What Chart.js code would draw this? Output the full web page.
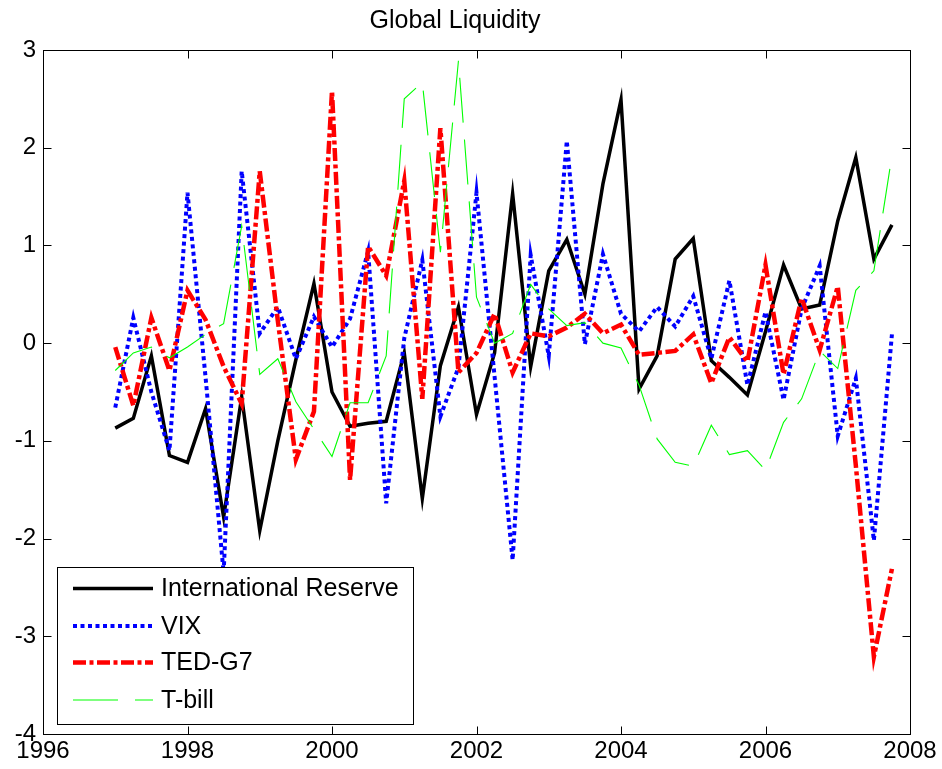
<!DOCTYPE html>
<html>
<head>
<meta charset="utf-8">
<script src="https://cdn.jsdelivr.net/npm/chart.js@4.4.1/dist/chart.umd.min.js"></script>
<style>
  html, body { margin: 0; padding: 0; background: #fff; }
  #wrap { width: 942px; height: 769px; }
</style>
</head>
<body>
<div id="wrap"><canvas id="c" width="942" height="769"></canvas></div>
<script>
// Quarterly observations, 1997Q1 .. 2007Q4 (plotted at fractional years)
const quarters = [
  1997.00, 1997.25, 1997.50, 1997.75, 1998.00, 1998.25, 1998.50, 1998.75,
  1999.00, 1999.25, 1999.50, 1999.75, 2000.00, 2000.25, 2000.50, 2000.75,
  2001.00, 2001.25, 2001.50, 2001.75, 2002.00, 2002.25, 2002.50, 2002.75,
  2003.00, 2003.25, 2003.50, 2003.75, 2004.00, 2004.25, 2004.50, 2004.75,
  2005.00, 2005.25, 2005.50, 2005.75, 2006.00, 2006.25, 2006.50, 2006.75,
  2007.00, 2007.25, 2007.50, 2007.75
];

const internationalReserve = [
  -0.87, -0.77, -0.13, -1.15, -1.22, -0.67, -1.78, -0.55,
  -1.92, -1.00, -0.17,  0.61, -0.50, -0.85, -0.82, -0.80,
  -0.10, -1.59, -0.23,  0.37, -0.73, -0.10,  1.53, -0.24,
   0.74,  1.06,  0.50,  1.63,  2.49, -0.47, -0.13,  0.86,
   1.07, -0.18, -0.35, -0.53,  0.12,  0.80,  0.35,  0.39,
   1.25,  1.90,  0.86,  1.21
];

const vix = [
  -0.66,  0.26, -0.50, -1.10,  1.54, -0.35, -2.35,  1.76,
   0.10,  0.37, -0.16,  0.27, -0.04,  0.25,  0.94, -1.64,
   0.05,  0.85, -0.75, -0.25,  1.54, -0.34, -2.22,  0.90,
  -0.13,  2.07, -0.01,  0.91,  0.30,  0.12,  0.37,  0.17,
   0.48, -0.16,  0.64, -0.43,  0.32, -0.58,  0.35,  0.79,
  -0.95, -0.36, -2.02,  0.09
];

const tedG7 = [
  -0.04, -0.64,  0.26, -0.28,  0.54,  0.24, -0.24, -0.62,
   1.76,  0.23, -1.19, -0.70,  2.58, -1.40,  0.99,  0.69,
   1.66, -0.57,  2.20, -0.30, -0.10,  0.30, -0.30,  0.10,
   0.07,  0.16,  0.30,  0.10,  0.19, -0.12, -0.10, -0.08,
   0.09, -0.41,  0.06, -0.19,  0.80, -0.32,  0.46, -0.07,
   0.58, -1.25, -3.21, -2.31
];

const tBill = [
  -0.28, -0.10, -0.04, -0.15, -0.04,  0.09,  0.20,  1.20,
  -0.32, -0.16, -0.60, -0.88, -1.16, -0.61, -0.61, -0.13,
   2.50,  2.67,  0.93,  2.89,  0.47,  0.00,  0.10,  0.60,
   0.35,  0.18,  0.21,  0.00, -0.05, -0.43, -0.98, -1.22,
  -1.26, -0.84, -1.14, -1.10, -1.30, -0.81, -0.57, -0.08,
  -0.26,  0.54,  0.74,  1.92
];

const seriesNames = ['International Reserve', 'VIX', 'TED-G7', 'T-bill'];
const xTicks = [1996, 1998, 2000, 2002, 2004, 2006, 2008];
const yTicks = [-4, -3, -2, -1, 0, 1, 2, 3];

const FONT = 'Liberation Sans, Arial, Helvetica, sans-serif';

const toPoints = vals => quarters.map((q, i) => ({ x: q, y: vals[i] }));

const styles = [
  { color: '#000000', width: 3.5, dash: [] },
  { color: '#0000ff', width: 4,   dash: [4, 3.5] },
  { color: '#ff0000', width: 4.5, dash: [13, 3.5, 4, 3.5] },
  { color: '#00ff00', width: 1.1, dash: [45, 17] }
];
const seriesValues = [internationalReserve, vix, tedG7, tBill];

const datasets = seriesValues.map((vals, i) => ({
  label: seriesNames[i],
  data: toPoints(vals),
  borderColor: styles[i].color,
  backgroundColor: styles[i].color,
  borderWidth: styles[i].width,
  borderDash: styles[i].dash,
  borderCapStyle: 'butt',
  borderJoinStyle: 'miter',
  pointRadius: 0,
  tension: 0,
  fill: false,
  order: 4 - i   // later series are painted over earlier ones
}));

// Axes box with inward tick marks on all four sides
const framePlugin = {
  id: 'frame',
  afterDatasetsDraw(chart) {
    const { ctx, chartArea: a, scales } = chart;
    ctx.save();
    ctx.strokeStyle = '#000';
    ctx.lineWidth = 1;
    ctx.setLineDash([]);
    const L = Math.round(a.left) + 0.5, R = Math.round(a.right) + 0.5;
    const T = Math.round(a.top) + 0.5, B = Math.round(a.bottom) + 0.5;
    ctx.strokeRect(L, T, R - L, B - T);
    const len = 8;
    ctx.beginPath();
    xTicks.forEach(v => {
      const px = Math.round(scales.x.getPixelForValue(v)) + 0.5;
      ctx.moveTo(px, B); ctx.lineTo(px, B - len);
      ctx.moveTo(px, T); ctx.lineTo(px, T + len);
    });
    yTicks.forEach(v => {
      const py = Math.round(scales.y.getPixelForValue(v)) + 0.5;
      ctx.moveTo(L, py); ctx.lineTo(L + len, py);
      ctx.moveTo(R, py); ctx.lineTo(R - len, py);
    });
    ctx.stroke();
    ctx.restore();
  }
};

// Boxed legend in the lower-left corner of the plot
const legendPlugin = {
  id: 'boxLegend',
  afterDraw(chart) {
    const { ctx } = chart;
    const box = { x: 57, y: 567, w: 356, h: 157 };
    const rows = [588.5, 626, 662.5, 700];
    ctx.save();
    ctx.fillStyle = '#fff';
    ctx.fillRect(box.x, box.y, box.w, box.h);
    ctx.strokeStyle = '#000';
    ctx.lineWidth = 1;
    ctx.setLineDash([]);
    ctx.strokeRect(box.x + 0.5, box.y + 0.5, box.w, box.h);
    chart.data.datasets.forEach((ds, i) => {
      const y = rows[i];
      ctx.beginPath();
      ctx.strokeStyle = ds.borderColor;
      ctx.lineWidth = ds.borderWidth;
      ctx.lineCap = 'butt';
      ctx.setLineDash(ds.borderDash);
      ctx.moveTo(73, y);
      ctx.lineTo(153, y);
      ctx.stroke();
      ctx.setLineDash([]);
      ctx.fillStyle = '#000';
      ctx.font = '25px ' + FONT;
      ctx.textAlign = 'left';
      ctx.textBaseline = 'middle';
      ctx.fillText(ds.label, 161, y + 1);
    });
    ctx.restore();
  }
};

new Chart(document.getElementById('c'), {
  type: 'line',
  data: { datasets },
  plugins: [framePlugin, legendPlugin],
  options: {
    responsive: false,
    animation: false,
    events: [],
    layout: { padding: { left: 0, right: 32, top: 0, bottom: 0 } },
    plugins: {
      legend: { display: false },
      tooltip: { enabled: false },
      title: {
        display: true,
        text: 'Global Liquidity',
        color: '#000',
        font: { family: FONT, size: 25, weight: 'normal', lineHeight: 1.2 },
        padding: { top: 6, bottom: 14 }
      }
    },
    scales: {
      x: {
        type: 'linear',
        min: 1996,
        max: 2008,
        afterFit(scale) { scale.height = 35; },
        afterBuildTicks(scale) { scale.ticks = xTicks.map(v => ({ value: v })); },
        grid: { display: false, drawTicks: false },
        border: { display: false },
        ticks: {
          color: '#000',
          padding: 3,
          maxRotation: 0,
          font: { family: FONT, size: 24 },
          callback: v => String(v)
        }
      },
      y: {
        type: 'linear',
        min: -4,
        max: 3,
        afterFit(scale) { scale.width = 43; },
        afterBuildTicks(scale) { scale.ticks = yTicks.map(v => ({ value: v })); },
        grid: { display: false, drawTicks: false },
        border: { display: false },
        ticks: {
          color: '#000',
          padding: 7,
          font: { family: FONT, size: 24 },
          callback: v => String(v)
        }
      }
    }
  }
});
</script>
</body>
</html>
